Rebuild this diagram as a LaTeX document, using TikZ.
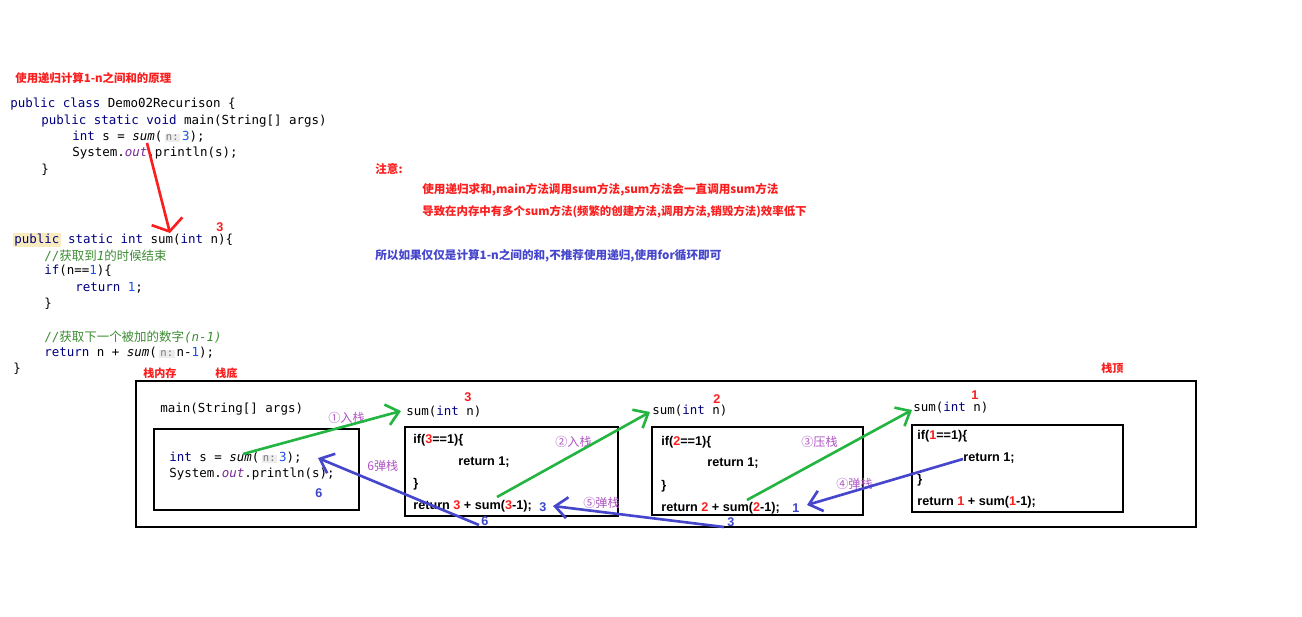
\documentclass[tikz,border=0pt]{standalone}
\usepackage{fontspec}
\setmainfont{Liberation Sans}
\setmonofont{DejaVu Sans Mono}
\newfontfamily\cjk{Noto Sans CJK SC}
\usetikzlibrary{positioning}
\usetikzlibrary{arrows.meta}
\definecolor{figRojo}{RGB}{250,30,30}
\definecolor{figAzulNum}{RGB}{60,70,200}
\definecolor{figVioleta}{RGB}{175,85,195}
\definecolor{figVerdeFlecha}{RGB}{35,180,65}
\definecolor{figAzulFlecha}{RGB}{70,70,205}
\definecolor{figClave}{RGB}{0,0,128}
\definecolor{figNumero}{RGB}{23,80,235}
\definecolor{figComentario}{RGB}{60,140,50}
\definecolor{figCampo}{RGB}{120,40,150}
\definecolor{figPista}{RGB}{236,236,236}
\definecolor{figPistaTexto}{RGB}{120,120,120}
\definecolor{figResalte}{RGB}{248,236,190}
\newcommand{\clave}[1]{\textcolor{figClave}{#1}}
\newcommand{\numero}[1]{\textcolor{figNumero}{#1}}
\newcommand{\rojo}[1]{\textcolor{figRojo}{#1}}
\newcommand{\pista}{{\setlength{\fboxsep}{0.8pt}\colorbox{figPista}{\fontsize{6pt}{7pt}\selectfont\textcolor{figPistaTexto}{n:}}}}
\newcommand{\resalte}[1]{{\setlength{\fboxsep}{0.6pt}\colorbox{figResalte}{#1}}}
\tikzset{
  codigo/.style={anchor=west, inner sep=0pt, font=\ttfamily\fontsize{7.1pt}{8pt}\selectfont},
  negrita/.style={anchor=west, inner sep=0pt, font=\bfseries\fontsize{7.2pt}{8pt}\selectfont},
  nota/.style={anchor=west, inner sep=0pt, font=\cjk\bfseries\fontsize{6.6pt}{8pt}\selectfont, text=figRojo},
  etiqueta/.style={anchor=west, inner sep=0pt, font=\cjk\fontsize{6.9pt}{8pt}\selectfont, text=figVioleta},
  valor/.style={anchor=west, inner sep=0pt, font=\bfseries\fontsize{7.2pt}{8pt}\selectfont, text=figAzulNum},
  parametro/.style={anchor=west, inner sep=0pt, font=\bfseries\fontsize{7.2pt}{8pt}\selectfont, text=figRojo},
  marco/.style={draw=black, line width=1.6pt},
  empuje/.style={-{Straight Barb[length=7pt,width=12pt]}, line width=1.5pt, draw=figVerdeFlecha},
  retorno/.style={-{Straight Barb[length=7pt,width=12pt]}, line width=1.5pt, draw=figAzulFlecha},
  llamada/.style={-{Straight Barb[length=6pt,width=18pt]}, line width=1.5pt, draw=figRojo}
}
\begin{document}
\begin{tikzpicture}[x=0.02cm, y=-0.02cm]
  \useasboundingbox (0,0) rectangle (1302,616);
  % metodo main
  \node[nota, font=\cjk\bfseries\fontsize{6.5pt}{8pt}\selectfont] (titulo) at (15,78) {使用递归计算1-n之间和的原理};
  \node[codigo] (m1) at (10,104) {\clave{public class} Demo02Recurison \{};
  \node[codigo] (m2) at (41,121) {\clave{public static void} main(String[] args)};
  \node[codigo] (m3) at (72,137) {\clave{int} s = \textit{sum}(\,\pista\,\numero{3});};
  \node[codigo] (m4) at (72,153) {System.\textcolor{figCampo}{\textit{out}}.println(s);};
  \node[codigo] (m5) at (41,170) {\}};
  % metodo sum
  \node[codigo] (s1) at (13,240) {\clave{\resalte{public} static int} sum(\clave{int} n)\{};
  \node[parametro] (s1n) at (216,227) {3};
  \node[codigo, text=figComentario] (s2) at (44,256) {//{\cjk 获取到}\textit{1}{\cjk 的时候结束}};
  \node[codigo] (s3) at (44,271) {\clave{if}(n==\numero{1})\{};
  \node[codigo] (s4) at (75,288) {\clave{return} \numero{1};};
  \node[codigo] (s5) at (44,304) {\}};
  \node[codigo, text=figComentario] (s6) at (44,337) {//{\cjk 获取下一个被加的数字}\textit{(n-1)}};
  \node[codigo] (s7) at (44,353) {\clave{return} n + \textit{sum}(\,\pista\,n-\numero{1});};
  \node[codigo] (s8) at (13,369) {\}};
  % notas
  \node[nota] (aviso) at (375,169) {注意:};
  \node[nota] (nota1) at (422,190) {使用递归求和,main方法调用sum方法,sum方法会一直调用sum方法};
  \node[nota, font=\cjk\bfseries\fontsize{6.5pt}{8pt}\selectfont] (nota2) at (422,212) {导致在内存中有多个sum方法(频繁的创建方法,调用方法,销毁方法)效率低下};
  \node[nota, text=figAzulFlecha] (nota3) at (375,256) {所以如果仅仅是计算1-n之间的和,不推荐使用递归,使用for循环即可};
  % pila
  \node[nota, font=\cjk\bfseries\fontsize{6.3pt}{8pt}\selectfont] (pila) at (143,373) {栈内存};
  \node[nota, font=\cjk\bfseries\fontsize{6.3pt}{8pt}\selectfont] (fondo) at (215,373) {栈底};
  \node[nota, font=\cjk\bfseries\fontsize{6.3pt}{8pt}\selectfont] (cima) at (1101,368) {栈顶};
  \draw[marco] (136,381) rectangle (1196,527);
  \draw[marco] (154,429) rectangle (359,510);
  \draw[marco] (405,427) rectangle (618,516);
  \draw[marco] (652,427) rectangle (863,515);
  \draw[marco] (912,425) rectangle (1123,512);
  % marco de main
  \node[codigo] (t1) at (160,409) {main(String[] args)};
  \node[codigo] (k1) at (169,458) {\clave{int} s = \textit{sum}(\,\pista\,\numero{3});};
  \node[codigo] (k2) at (169,474) {System.\textcolor{figCampo}{\textit{out}}.println(s);};
  \node[valor] (v1) at (315,493) {6};
  % marco n=3
  \node[codigo] (t2) at (406,412) {sum(\clave{int} n)};
  \node[parametro] (n2) at (464,397) {3};
  \node[negrita] (a1) at (413,440) {if(\rojo{3}==1)\{};
  \node[negrita] (a2) at (458,462) {return 1;};
  \node[negrita] (a3) at (413,484) {\}};
  \node[negrita] (a4) at (413,506) {return \rojo{3} + sum(\rojo{3}-1);};
  \node[valor] (v2) at (539,507) {3};
  % marco n=2
  \node[codigo] (t3) at (652,411) {sum(\clave{int} n)};
  \node[parametro] (n3) at (713,399) {2};
  \node[negrita] (b1) at (661,442) {if(\rojo{2}==1)\{};
  \node[negrita] (b2) at (707,463) {return 1;};
  \node[negrita] (b3) at (661,486) {\}};
  \node[negrita] (b4) at (661,508) {return \rojo{2} + sum(\rojo{2}-1);};
  \node[valor] (v3) at (792,508) {1};
  % marco n=1
  \node[codigo] (t4) at (913,408) {sum(\clave{int} n)};
  \node[parametro] (n4) at (971,395) {1};
  \node[negrita] (d1) at (917,436) {if(\rojo{1}==1)\{};
  \node[negrita] (d2) at (963,458) {return 1;};
  \node[negrita] (d3) at (917,480) {\}};
  \node[negrita] (d4) at (917,502) {return \rojo{1} + sum(\rojo{1}-1);};
  % etiquetas de pasos
  \node[etiqueta] (e1) at (328,418) {①入栈};
  \node[etiqueta] (e2) at (555,442) {②入栈};
  \node[etiqueta] (e3) at (801,442) {③压栈};
  \node[etiqueta] (e4) at (836,484) {④弹栈};
  \node[etiqueta] (e5) at (583,503) {⑤弹栈};
  \node[etiqueta] (e6) at (367,466) {6弹栈};
  % flechas
  \coordinate (r1) at (147,143);
  \coordinate (r2) at (170,233);
  \coordinate (p1) at (243,454);
  \coordinate (q1) at (401,411);
  \coordinate (p2) at (497,497);
  \coordinate (q2) at (650,412);
  \coordinate (p3) at (747,500);
  \coordinate (q3) at (912,410);
  \coordinate (u4) at (963,459);
  \coordinate (w4) at (807,505);
  \coordinate (u5) at (724,527);
  \coordinate (w5) at (553,506);
  \coordinate (u6) at (479,525);
  \coordinate (w6) at (318,458);
  \draw[llamada] (r1) -- (r2);
  \draw[empuje] (p1) -- (q1);
  \draw[empuje] (p2) -- (q2);
  \draw[empuje] (p3) -- (q3);
  \draw[retorno] (u4) -- (w4);
  \draw[retorno] (u5) -- (w5);
  \draw[retorno] (u6) -- (w6);
  \node[valor] (v4) at (481,521) {6};
  \node[valor] (v5) at (727,522) {3};
\end{tikzpicture}
\end{document}
